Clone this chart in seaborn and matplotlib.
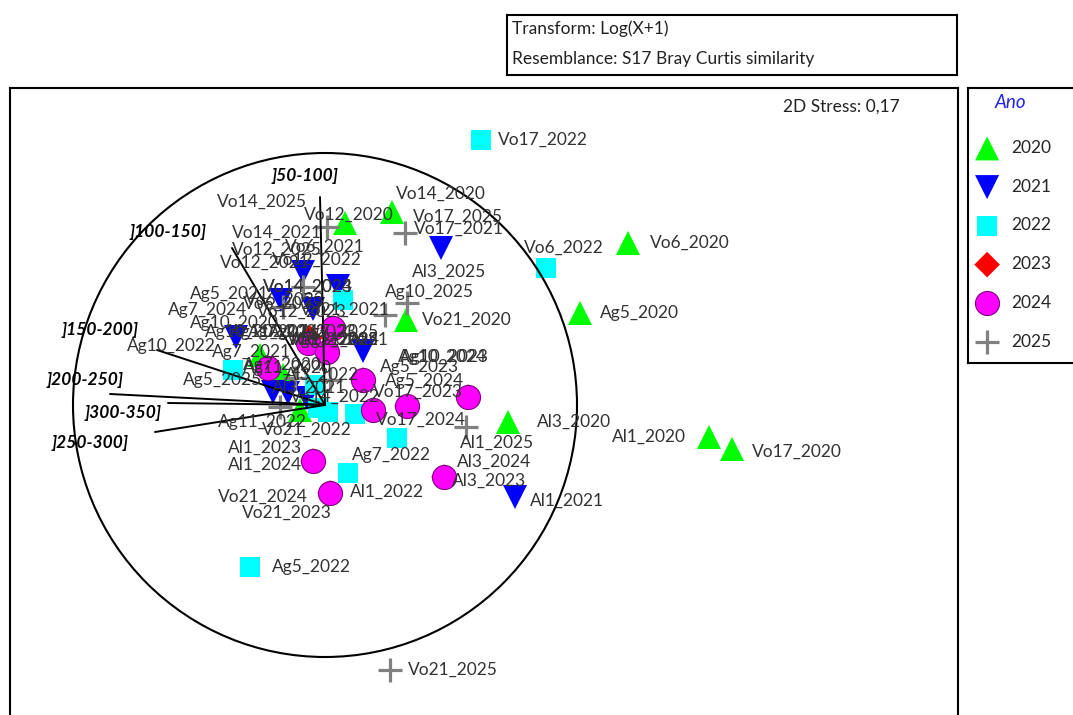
import numpy as np
import pandas as pd
import matplotlib
matplotlib.use('Agg')
import matplotlib.pyplot as plt
from matplotlib.patches import Circle
import seaborn as sns

sns.set_theme(style='white')
plt.rcParams['font.family'] = ['Lato', 'DejaVu Sans']

# sites and years (same site order in every year)
sites = ['Ag5', 'Ag7', 'Ag10', 'Ag11', 'Al1', 'Al3', 'Vo6', 'Vo12', 'Vo14', 'Vo17', 'Vo21']
years = ['2020', '2021', '2022', '2023', '2024', '2025']

# nMDS coordinates
nmds1_2020 = [2.55, -0.65, -0.42, -0.25, 3.84, 1.83, 3.03, 0.20, 0.67, 4.07, 0.81]
nmds2_2020 = [0.92, 0.50, 0.30, -0.05, -0.32, -0.17, 1.62, 1.82, 1.93, -0.44, 0.85]
nmds1_2021 = [-0.44, -0.52, -0.89, 0.38, 1.90, -0.18, -0.22, -0.12, 0.13, 1.16, -0.37]
nmds2_2021 = [1.05, 0.13, 0.68, 0.54, -0.92, 0.07, 1.33, 0.96, 1.19, 1.57, 0.12]
nmds1_2022 = [-0.75, 0.72, -0.92, 0.30, 0.23, -0.10, 2.21, 0.18, -0.07, 1.56, 0.03]
nmds2_2022 = [-1.62, -0.33, 0.35, -0.09, -0.68, 0.20, 1.37, 1.05, -0.03, 2.65, -0.07]
nmds1_2023 = [0.38, -0.57, 1.43, -0.17, -0.12, 1.19, -0.15, 0.02, 0.08, 0.82, 0.05]
nmds2_2023 = [0.25, 0.37, 0.08, 0.62, -0.56, -0.72, 0.67, 0.53, 0.77, -0.01, -0.88]
nmds1_2024 = [0.38, -0.57, 1.43, -0.17, -0.12, 1.19, 0.82, 0.02, 0.08, 0.48, 0.05]
nmds2_2024 = [0.25, 0.37, 0.08, 0.62, -0.56, -0.72, -0.01, 0.53, 0.77, -0.05, -0.88]
nmds1_2025 = [-0.45, -0.30, 0.82, 0.05, 1.41, 0.60, -0.42, -0.22, 0.02, 0.80, 0.65]
nmds2_2025 = [-0.02, 0.27, 1.02, 0.25, -0.22, 0.90, 0.98, 1.18, 1.78, 1.72, -2.65]

# vectors (correlation circle)
vector_labels = [']50-100]', ']100-150]', ']150-200]', ']200-250]', ']300-350]', ']250-300]']
vector_x = [-0.05, -0.93, -1.68, -2.15, -1.57, -1.70]
vector_y = [2.08, 1.57, 0.55, 0.11, 0.02, -0.27]
circle_radius = 2.52

# label placement (pixels from marker centre to label start, up positive)
label_off_2020 = [(20, 0), (-17, -10), (-93, 52), (-57, 42), (-97, 0), (29, 0),
                  (22, 0), (-41, 8), (4, 18), (20, -3), (16, 0)]
label_off_2021 = [(-91, 6), (-61, 40), (-31, 5), (-63, 11), (15, -4), (-35, 10),
                  (-18, 25), (-93, 46), (-106, 53), (-27, 19), (12, 83)]
label_off_2022 = [(22, 0), (-45, -17), (-106, 24), (-137, -8), (2, -19), (-30, 10),
                  (-22, 20), (-71, 40), (-28, 11), (17, 0), (-66, -18)]
label_off_2023 = [(17, 13), (-20, 36), (-68, 40), (-40, 11), (-85, 13), (8, -4),
                  (-65, 38), (-70, 40), (-70, 41), (-34, 14), (-88, -20)]
label_off_2024 = [(22, -1), (-100, 58), (-70, 40), (-78, 11), (-85, -4), (13, 15),
                  (-120, 66), (-37, 12), (-70, 41), (3, -10), (-112, -4)]
label_off_2025 = [(-97, 27), (5, 46), (-22, 11), (-40, 40), (-6, -16), (27, 43),
                  (-40, 3), (-71, 37), (-110, 25), (8, 16), (18, 0)]
vector_label_off = [(-15, 21), (-64, 16), (-57, 20), (-25, 14), (-45, -10), (-65, -11)]

year_style = {
    '2020': dict(marker='^', color='#00ff00', s=300, edgecolor='none'),
    '2021': dict(marker='v', color='#0000ff', s=300, edgecolor='none'),
    '2022': dict(marker='s', color='#00ffff', s=210, edgecolor='none'),
    '2023': dict(marker='D', color='#ff0000', s=170, edgecolor='none'),
    '2024': dict(marker='o', color='#ff00ff', s=300, edgecolor='#800080', linewidth=0.8),
    '2025': dict(marker='+', color='#808080', s=320, linewidth=2.3),
}

nmds1 = [nmds1_2020, nmds1_2021, nmds1_2022, nmds1_2023, nmds1_2024, nmds1_2025]
nmds2 = [nmds2_2020, nmds2_2021, nmds2_2022, nmds2_2023, nmds2_2024, nmds2_2025]
offsets = [label_off_2020, label_off_2021, label_off_2022, label_off_2023,
           label_off_2024, label_off_2025]

rows = []
for yr, xs, ys, offs in zip(years, nmds1, nmds2, offsets):
    for site, x, y, (dx, dy) in zip(sites, xs, ys, offs):
        rows.append({'Sample': f'{site}_{yr}', 'Ano': yr, 'MDS1': x, 'MDS2': y, 'dx': dx, 'dy': dy})
df = pd.DataFrame(rows)

W, H = 1073, 715
fig = plt.figure(figsize=(W / 100, H / 100), dpi=100)

# main nMDS panel (its bottom edge runs past the picture)
ax = fig.add_axes([10 / W, (H - 740) / H, 948 / W, 652 / H])
for yr in years:
    sub = df[df['Ano'] == yr]
    sns.scatterplot(data=sub, x='MDS1', y='MDS2', ax=ax, label=yr, zorder=3, **year_style[yr])

for _, r in df.iterrows():
    ax.annotate(r['Sample'], (r['MDS1'], r['MDS2']), xytext=(r['dx'], r['dy']),
                textcoords='offset pixels', ha='left', va='center',
                fontsize=12.5, color='#333333', zorder=6)

ax.add_patch(Circle((0, 0), circle_radius, fill=False, color='black', lw=1.5, zorder=4))
for lab, vx, vy, (dx, dy) in zip(vector_labels, vector_x, vector_y, vector_label_off):
    ax.plot([0, vx], [0, vy], color='black', lw=1.4, zorder=5)
    ax.annotate(lab, (vx, vy), xytext=(dx, dy), textcoords='offset pixels',
                ha='center', va='center', fontsize=12.5, fontweight='bold',
                fontstyle='italic', color='black', zorder=7)

ax.set_xlim(-3.15, 6.33)
ax.set_ylim(-3.35, 3.17)
ax.set_xticks([])
ax.set_yticks([])
ax.set_xlabel('')
ax.set_ylabel('')
for sp in ax.spines.values():
    sp.set_color('black')
    sp.set_linewidth(1.5)
ax.text(0.815, 0.971, '2D Stress: 0,17', transform=ax.transAxes, ha='left', va='center',
        fontsize=12.5, color='#222222')

handles, labels = ax.get_legend_handles_labels()
ax.get_legend().remove()

# legend panel
axl = fig.add_axes([968 / W, (H - 363) / H, 130 / W, 275 / H])
axl.set_xticks([])
axl.set_yticks([])
for sp in axl.spines.values():
    sp.set_color('black')
    sp.set_linewidth(1.5)
axl.text(42 / 130, 1 - 14 / 275, 'Ano', transform=axl.transAxes, ha='center', va='center',
         fontsize=13.5, fontstyle='italic', color='#2222ee')
leg = axl.legend(handles, labels, loc='upper left', bbox_to_anchor=(0.0, 1 - 45 / 275),
                 frameon=False, fontsize=12.5, labelspacing=1.31, handlelength=1.4,
                 handletextpad=0.7, borderaxespad=0, borderpad=0.4)

# transform / resemblance box
axt = fig.add_axes([507 / W, (H - 75) / H, 450 / W, 60 / H])
axt.set_xticks([])
axt.set_yticks([])
for sp in axt.spines.values():
    sp.set_color('black')
    sp.set_linewidth(1.5)
axt.text(5 / 450, 1 - 14 / 60, 'Transform: Log(X+1)', transform=axt.transAxes,
         ha='left', va='center', fontsize=12.5, color='#222222')
axt.text(5 / 450, 1 - 44 / 60, 'Resemblance: S17 Bray Curtis similarity', transform=axt.transAxes,
         ha='left', va='center', fontsize=12.5, color='#222222')

fig.savefig('out.png', dpi=100)
